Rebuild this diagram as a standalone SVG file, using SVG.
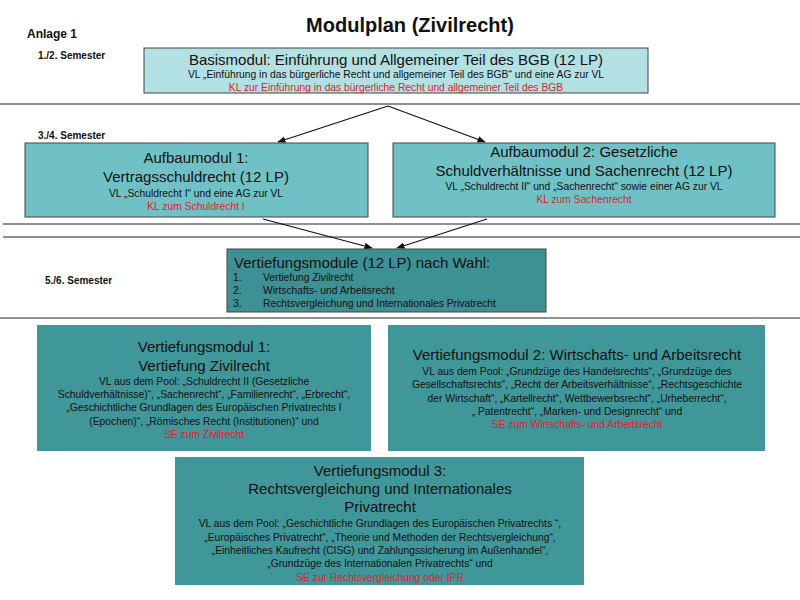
<svg xmlns="http://www.w3.org/2000/svg" width="800" height="600" viewBox="0 0 800 600">
<defs>
<style>
text{font-family:"Liberation Sans",Arial,sans-serif;fill:#111}
.h{font-size:15px}
.s{font-size:10.3px}
.r{fill:#e0202a}
.c{text-anchor:middle}
.b{font-weight:bold}
.sep{stroke:#222;stroke-width:1.2}
.box{stroke:#444;stroke-width:1}
.cn{stroke:#111;stroke-width:1.2;fill:none;marker-end:url(#ah)}
</style>
<marker id="ah" viewBox="0 0 10 10" refX="9" refY="5" markerWidth="7" markerHeight="7" orient="auto"><path d="M0,1 L10,5 L0,9 z" fill="#111"/></marker>
</defs>
<rect width="800" height="600" fill="#fff"/>
<text x="27" y="38" class="b" font-size="12">Anlage 1</text>
<text x="410" y="32" class="b c" font-size="20">Modulplan (Zivilrecht)</text>
<text x="38" y="59" class="b" font-size="10">1./2.  Semester</text>
<text x="38" y="139" class="b" font-size="10">3./4. Semester</text>
<text x="45" y="284" class="b" font-size="10">5./6. Semester</text>
<line class="sep" x1="0" y1="104" x2="800" y2="104"/>
<line class="sep" x1="3" y1="224" x2="800" y2="224"/>
<line class="sep" x1="3" y1="237" x2="800" y2="237"/>
<line class="sep" x1="0" y1="318" x2="800" y2="318"/>
<g id="connectors">
<line class="cn" x1="388" y1="106" x2="278" y2="142"/>
<line class="cn" x1="388" y1="106" x2="485" y2="142"/>
<line class="cn" x1="263" y1="219" x2="372" y2="248"/>
<line class="cn" x1="487" y1="219" x2="397" y2="248"/>
</g>
<g id="basis">
<rect class="box" x="144" y="48" width="504" height="45" fill="#b3e0e2"/>
<text x="396" y="65" class="h c">Basismodul: Einführung und Allgemeiner Teil des BGB (12 LP)</text>
<text x="396" y="78" class="s c">VL „Einführung in das bürgerliche Recht und allgemeiner Teil des BGB“ und eine AG zur VL</text>
<text x="396" y="91" class="s c r">KL zur Einführung in das bürgerliche Recht und allgemeiner Teil des BGB</text>
</g>
<g id="aufbau1">
<rect class="box" x="25" y="143" width="343" height="74" fill="#6fc1c6"/>
<text x="196" y="163" class="h c">Aufbaumodul 1:</text>
<text x="196" y="182" class="h c">Vertragsschuldrecht (12 LP)</text>
<text x="196" y="197" class="s c">VL „Schuldrecht I“ und eine AG zur VL</text>
<text x="196" y="210" class="s c r">KL zum Schuldrecht I</text>
</g>
<g id="aufbau2">
<rect class="box" x="393" y="143" width="382" height="74" fill="#6fc1c6"/>
<text x="584" y="157" class="h c">Aufbaumodul 2: Gesetzliche</text>
<text x="584" y="176" class="h c">Schuldverhältnisse und Sachenrecht (12 LP)</text>
<text x="584" y="190" class="s c">VL „Schuldrecht II“ und „Sachenrecht“ sowie einer AG zur VL</text>
<text x="584" y="203" class="s c r">KL zum Sachenrecht</text>
</g>
<g id="wahl">
<rect class="box" x="227" y="249" width="319" height="63" fill="#3d9093"/>
<text x="234" y="268" class="h">Vertiefungsmodule (12 LP) nach Wahl:</text>
<text x="233" y="281" class="s">1.</text><text x="263" y="281" class="s">Vertiefung Zivilrecht</text>
<text x="233" y="294" class="s">2.</text><text x="263" y="294" class="s">Wirtschafts- und Arbeitsrecht</text>
<text x="233" y="307" class="s">3.</text><text x="263" y="307" class="s">Rechtsvergleichung und Internationales Privatrecht</text>
</g>
<g id="vm1">
<rect x="37" y="325" width="334" height="126" fill="#40979a"/>
<text x="204" y="352" class="h c">Vertiefungsmodul 1:</text>
<text x="204" y="371" class="h c">Vertiefung Zivilrecht</text>
<text x="204" y="385" class="s c">VL aus dem Pool: „Schuldrecht II  (Gesetzliche</text>
<text x="204" y="398" class="s c">Schuldverhältnisse)“, „Sachenrecht“, „Familienrecht“, „Erbrecht“,</text>
<text x="204" y="411" class="s c">„Geschichtliche Grundlagen des Europäischen Privatrechts I</text>
<text x="204" y="425" class="s c">(Epochen)“, „Römisches Recht (Institutionen)“ und</text>
<text x="204" y="438" class="s c r">SE zum Zivilrecht</text>
</g>
<g id="vm2">
<rect x="388" y="325" width="377" height="126" fill="#40979a"/>
<text x="577" y="360" class="h c">Vertiefungsmodul 2: Wirtschafts- und Arbeitsrecht</text>
<text x="577" y="375" class="s c">VL aus dem Pool: „Grundzüge des Handelsrechts“, „Grundzüge des</text>
<text x="577" y="388" class="s c">Gesellschaftsrechts“, „Recht der Arbeitsverhältnisse“, „Rechtsgeschichte</text>
<text x="577" y="402" class="s c">der Wirtschaft“, „Kartellrecht“,  Wettbewerbsrecht“, „Urheberrecht“,</text>
<text x="577" y="415" class="s c">„ Patentrecht“, „Marken- und Designrecht“ und</text>
<text x="577" y="428" class="s c r">SE zum Wirtschafts- und Arbeitsrecht</text>
</g>
<g id="vm3">
<rect x="175" y="457" width="409" height="128" fill="#40979a"/>
<text x="380" y="476" class="h c">Vertiefungsmodul 3:</text>
<text x="380" y="494" class="h c">Rechtsvergleichung und Internationales</text>
<text x="380" y="512" class="h c">Privatrecht</text>
<text x="380" y="527" class="s c">VL aus dem Pool: „Geschichtliche Grundlagen des Europäischen Privatrechts  “,</text>
<text x="380" y="541" class="s c">„Europäisches Privatrecht“, „Theorie und Methoden der Rechtsvergleichung“,</text>
<text x="380" y="554" class="s c">„Einheitliches Kaufrecht (CISG) und Zahlungssicherung im Außenhandel“,</text>
<text x="380" y="567" class="s c">„Grundzüge des Internationalen Privatrechts“ und</text>
<text x="380" y="581" class="s c r">SE zur Rechtsvergleichung oder IPR</text>
</g>
</svg>
